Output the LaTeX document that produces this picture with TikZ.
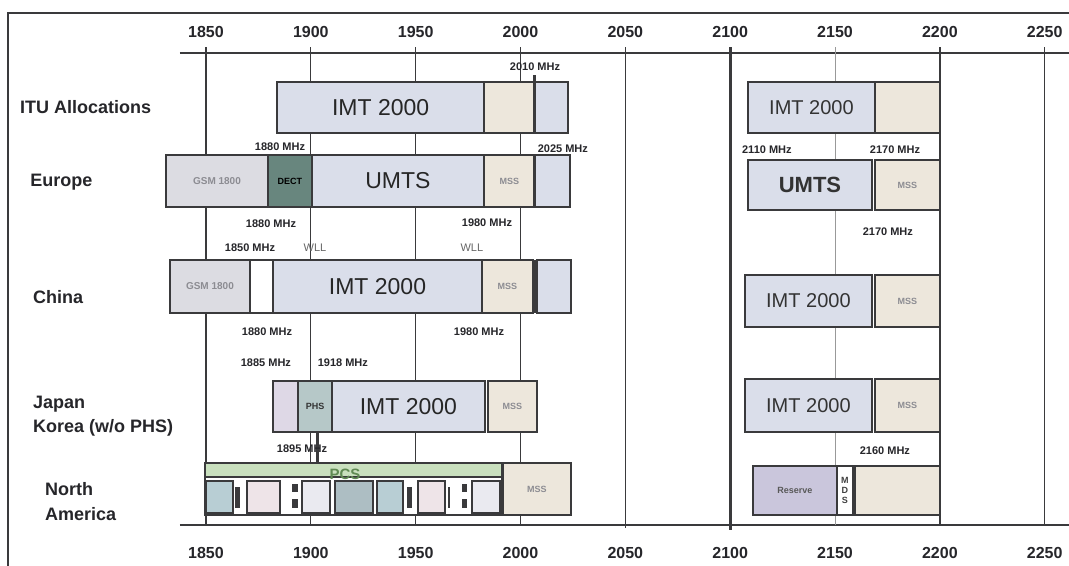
\documentclass[tikz,border=0pt]{standalone}
\usepackage{fontspec}
\setmainfont{Liberation Sans}
\usetikzlibrary{positioning}
\definecolor{frameline}{RGB}{58,58,60}
\definecolor{textdark}{RGB}{38,38,42}
\definecolor{imtblue}{RGB}{218,222,234}
\definecolor{mssbeige}{RGB}{237,231,220}
\definecolor{gsmgray}{RGB}{220,220,226}
\definecolor{dectgreen}{RGB}{104,134,126}
\definecolor{phsteal}{RGB}{182,200,200}
\definecolor{lilac}{RGB}{222,216,230}
\definecolor{reservepurple}{RGB}{202,198,220}
\definecolor{pcsgreen}{RGB}{201,224,190}
\definecolor{pcstext}{RGB}{96,138,84}
\definecolor{blockteal}{RGB}{184,206,212}
\definecolor{blockpink}{RGB}{238,228,232}
\definecolor{blockwhite}{RGB}{234,234,240}
\definecolor{labelgray}{RGB}{140,140,146}

\begin{document}
\begin{tikzpicture}[
      x=2.097pt, y=-1pt,
      band/.style={draw=frameline, line width=1.8pt},
      gridline/.style={draw=frameline, line width=1.2pt},
      rowlabel/.style={anchor=west, inner sep=0pt, text=textdark,
        font=\fontsize{18}{20}\selectfont\bfseries},
      freq/.style={text=textdark, font=\fontsize{16}{18}\selectfont\bfseries},
      mhz/.style={inner sep=0pt, text=textdark,
        font=\fontsize{11}{12}\selectfont\bfseries},
      bigtext/.style={text=black!85, font=\fontsize{23}{25}\selectfont},
      midtext/.style={text=black!80, font=\fontsize{20}{22}\selectfont},
      faint/.style={text=labelgray, font=\fontsize{9}{10}\selectfont\bfseries}
    ]
    \useasboundingbox[fill=white] (1751.8,0) rectangle (2261.6,566);

    % frame and axes
    \draw[frameline, line width=2pt] (1755.6,566) -- (1755.6,13) -- (2261.6,13);
    \draw[frameline, line width=1.6pt] (1837.6,53) -- (2261.6,53);
    \draw[frameline, line width=1.6pt] (1837.6,525) -- (2261.6,525);
    \foreach \f in {1850,1900,1950,2000,2250}
      \draw[gridline] (\f,47) -- (\f,525);
    \draw[gridline, line width=1.6pt] (2050,47) -- (2050,528);
    \draw[gridline, line width=3pt] (2100,47) -- (2100,530);
    \draw[gridline, draw=gray!80, line width=1pt] (2150,47) -- (2150,525);
    \draw[gridline, line width=2pt] (2200,47) -- (2200,525);
    \foreach \f in {1850,1900,...,2250} {
      \node[freq] (top\f) at (\f,32) {\f};
      \node[freq] (bot\f) at (\f,553) {\f};
    }

    % row labels
    \node[rowlabel] (itu) at (1761.3,107) {ITU Allocations};
    \node[rowlabel] (europe) at (1766.2,182) {Europe};
    \node[rowlabel] (china) at (1767.5,297) {China};
    \node[rowlabel] (japan) at (1767.5,404) {Japan};
    \node[rowlabel] (korea) at (1767.5,428) {Korea (w/o PHS)};
    \node[rowlabel] (north) at (1773.2,489) {North};
    \node[rowlabel] (america) at (1773.2,514) {America};

    % ITU allocations
    \draw[band, fill=imtblue] (1884,82) rectangle (1982.6,133)
      node[midway, bigtext] (ituimt) {IMT 2000};
    \draw[band, fill=mssbeige] (1982.6,82) rectangle (2006.9,133);
    \draw[band, fill=imtblue] (2006.9,82) rectangle (2022.6,133);
    \draw[frameline, line width=3pt] (2006.9,75) -- (2006.9,133);
    \node[mhz] (itu2010) at (2006.9,67) {2010 MHz};
    \draw[band, fill=imtblue] (2108.5,82) rectangle (2169,133)
      node[midway, midtext] (ituimtr) {IMT 2000};
    \draw[band, fill=mssbeige] (2169,82) rectangle (2200,133);

    % Europe
    \draw[band, fill=gsmgray] (1830.9,155) rectangle (1879.6,207)
      node[midway, faint, font=\fontsize{10}{11}\selectfont\bfseries] (eugsm) {GSM 1800};
    \draw[band, fill=dectgreen] (1879.6,155) rectangle (1900.5,207)
      node[midway, text=black, font=\fontsize{9}{10}\selectfont\bfseries] (eudect) {DECT};
    \draw[band, fill=imtblue] (1900.5,155) rectangle (1982.6,207)
      node[midway, bigtext] (euumts) {UMTS};
    \draw[band, fill=mssbeige] (1982.6,155) rectangle (2006.9,207)
      node[midway, faint] (eumss) {MSS};
    \draw[band, fill=imtblue] (2006.9,155) rectangle (2023.6,207);
    \draw[frameline, line width=3pt] (2006.9,155) -- (2006.9,207);
    \node[mhz] (eu1880a) at (1885.3,147) {1880 MHz};
    \node[mhz] (eu2025) at (2020.2,149) {2025 MHz};
    \draw[band, fill=imtblue] (2108.5,160) rectangle (2167.6,210)
      node[midway, midtext, font=\fontsize{22}{24}\selectfont\bfseries] (euumtsr) {UMTS};
    \draw[band, fill=mssbeige] (2169,160) rectangle (2200,210)
      node[midway, faint] (eumssr) {MSS};
    \node[mhz] (eu2110) at (2117.5,150) {2110 MHz};
    \node[mhz] (eu2170a) at (2178.6,150) {2170 MHz};
    \node[mhz] (eu1880b) at (1881,224) {1880 MHz};
    \node[mhz] (eu1980) at (1984,223) {1980 MHz};
    \node[mhz] (eu2170b) at (2175.2,232) {2170 MHz};

    % China
    \node[mhz] (cn1850) at (1871,248) {1850 MHz};
    \node[mhz, font=\fontsize{11}{12}\selectfont, text=black!60] (cnwlla) at (1902,248) {WLL};
    \node[mhz, font=\fontsize{11}{12}\selectfont, text=black!60] (cnwllb) at (1976.8,248) {WLL};
    \draw[band, fill=gsmgray] (1832.8,260) rectangle (1871,313)
      node[midway, faint, font=\fontsize{10}{11}\selectfont\bfseries] (cngsm) {GSM 1800};
    \draw[band, fill=white] (1871,260) rectangle (1882,313);
    \draw[band, fill=imtblue] (1882,260) rectangle (1981.6,313)
      node[midway, bigtext] (cnimt) {IMT 2000};
    \draw[band, fill=mssbeige] (1981.6,260) rectangle (2005.9,313)
      node[midway, faint] (cnmss) {MSS};
    \draw[band, fill=imtblue] (2007.8,260) rectangle (2024.1,313);
    \draw[frameline, line width=3pt] (2006.9,260) -- (2006.9,313);
    \node[mhz] (cn1880) at (1879.1,332) {1880 MHz};
    \node[mhz] (cn1980) at (1980.2,332) {1980 MHz};
    \draw[band, fill=imtblue] (2107,275) rectangle (2167.6,327)
      node[midway, midtext] (cnimtr) {IMT 2000};
    \draw[band, fill=mssbeige] (2169,275) rectangle (2200,327)
      node[midway, faint] (cnmssr) {MSS};

    % Japan / Korea
    \node[mhz] (jp1885) at (1878.6,363) {1885 MHz};
    \node[mhz] (jp1918) at (1915.3,363) {1918 MHz};
    \draw[band, fill=lilac] (1882,381) rectangle (1893.9,432);
    \draw[band, fill=phsteal] (1893.9,381) rectangle (1910.1,432)
      node[midway, text=black!80, font=\fontsize{9}{10}\selectfont\bfseries] (jpphs) {PHS};
    \draw[band, fill=imtblue] (1910.1,381) rectangle (1983,432)
      node[midway, bigtext] (jpimt) {IMT 2000};
    \draw[band, fill=mssbeige] (1984.5,381) rectangle (2007.8,432)
      node[midway, faint] (jpmss) {MSS};
    \draw[frameline, line width=3pt] (1903,432) -- (1903,462);
    \node[mhz] (jp1895) at (1895.8,449) {1895 MHz};
    \draw[band, fill=imtblue] (2107,379) rectangle (2167.6,432)
      node[midway, midtext] (jpimtr) {IMT 2000};
    \draw[band, fill=mssbeige] (2169,379) rectangle (2200,432)
      node[midway, faint] (jpmssr) {MSS};

    % North America
    \draw[band, fill=white] (1849.5,463) rectangle (1991.2,515);
    \draw[band, fill=pcsgreen] (1849.5,463) rectangle (1991.2,477);
    \node[text=pcstext, font=\fontsize{15}{16}\selectfont\bfseries, inner sep=0pt]
      (napcs) at (1916.3,474) {PCS};
    \draw[band, fill=blockteal] (1850,481) rectangle (1862.9,513);
    \draw[band, fill=blockpink] (1869.6,481) rectangle (1885.3,513);
    \draw[band, fill=blockwhite] (1895.8,481) rectangle (1909.1,513);
    \draw[band, fill=blockteal!80!gray] (1911.5,481) rectangle (1929.6,513);
    \draw[band, fill=blockteal] (1931.5,481) rectangle (1943.9,513);
    \draw[band, fill=blockpink] (1951.1,481) rectangle (1964,513);
    \draw[band, fill=blockwhite] (1976.8,481) rectangle (1990.2,513);
    \fill[frameline] (1863.8,487) rectangle (1866.2,508);
    \fill[frameline] (1891,484) rectangle (1893.9,492);
    \fill[frameline] (1891,499) rectangle (1893.9,508);
    \fill[frameline] (1945.8,487) rectangle (1948.2,508);
    \fill[frameline] (1965.4,487) rectangle (1966.6,508);
    \fill[frameline] (1972.1,484) rectangle (1974.5,492);
    \fill[frameline] (1972.1,499) rectangle (1974.5,508);
    \draw[band, fill=mssbeige] (1991.6,463) rectangle (2024.1,515)
      node[midway, faint] (namss) {MSS};
    \node[mhz] (na2160) at (2173.8,451) {2160 MHz};
    \draw[band, fill=reservepurple] (2110.8,466) rectangle (2150.9,515)
      node[midway, text=black!65, font=\fontsize{9}{10}\selectfont\bfseries] (nareserve) {Reserve};
    \draw[band, fill=white] (2150.9,466) rectangle (2158.5,515);
    \node[align=center, inner sep=0pt, text=black!75,
      font=\fontsize{9}{10}\selectfont\bfseries] (namds) at (2154.7,490) {M\\D\\S};
    \draw[band, fill=mssbeige] (2159.5,466) rectangle (2200,515);
  \end{tikzpicture}
\end{document}
